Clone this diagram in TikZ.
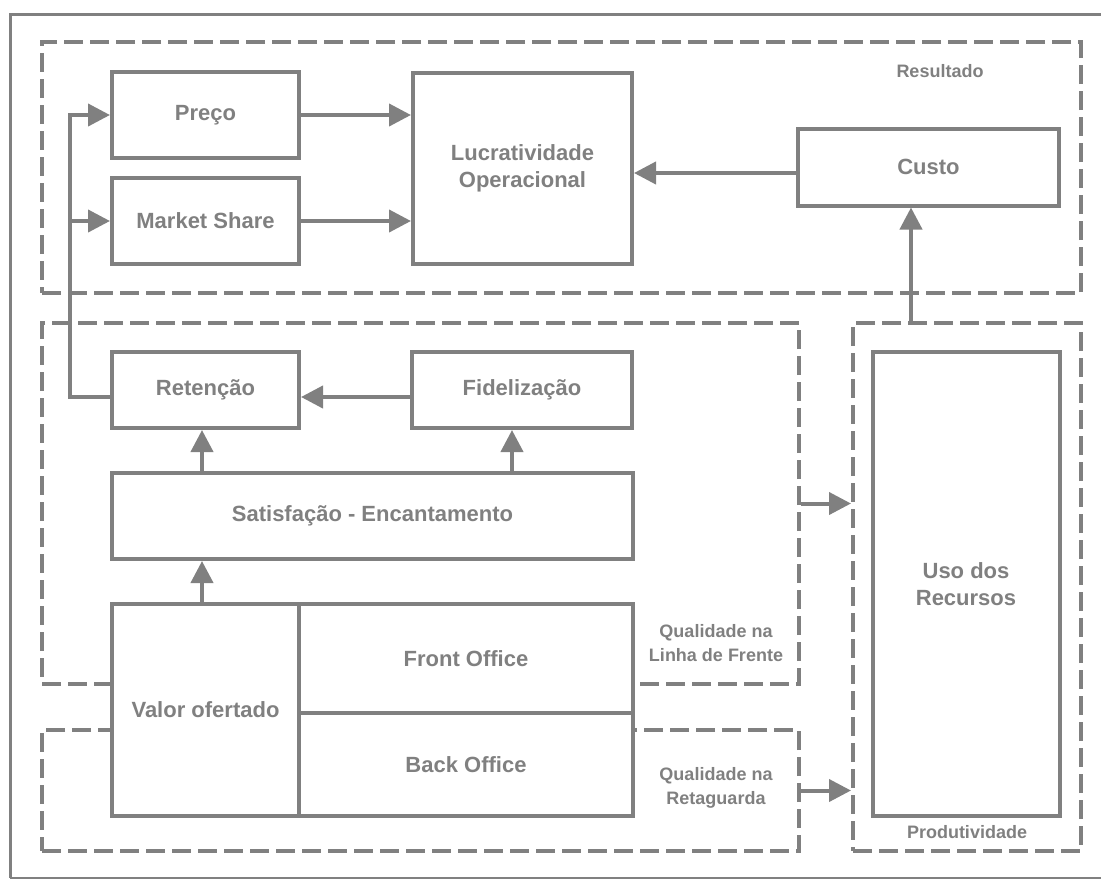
\documentclass[tikz,border=0pt]{standalone}
\usepackage{fontspec}
\setmainfont{Liberation Sans}
\usepackage{xcolor}
\definecolor{cinza}{RGB}{128,128,128}
\usepackage{tikz}
\usetikzlibrary{arrows.meta}
\usetikzlibrary{positioning}
\newcommand{\textobox}{\bfseries\fontsize{22}{27}\selectfont}
\newcommand{\textorotulo}{\bfseries\fontsize{18}{24}\selectfont}
\newcommand{\larguracol}{187pt}
\tikzset{
    caixa/.style={draw=cinza, line width=4pt, fill=white, rectangle, inner sep=0pt,
        text=cinza, align=center, font=\textobox},
    coluna/.style={caixa, minimum width=\larguracol},
    regiao/.style={draw=cinza, line width=4pt, rectangle, inner sep=0pt,
        dash pattern=on 19pt off 7pt},
    rotulo/.style={text=cinza, align=center, font=\textorotulo, inner sep=0pt},
    seta/.style={draw=cinza, line width=4pt, -{Triangle[length=22pt, width=22pt]}},
    linha/.style={draw=cinza, line width=4pt}
}
\begin{document}
\begin{tikzpicture}[x=1pt, y=-1pt]
    \useasboundingbox (0,0) rectangle (1101,879);
    \draw[cinza, line width=3pt] (1110,14) -- (10,14) -- (10,878);
    \draw[cinza, line width=1.5pt] (10,878) -- (1110,878);

    % regioes tracejadas
    \node[regiao, minimum width=1039pt, minimum height=251pt] (resultado) at (561.5,167.5) {};
    \node[regiao, minimum width=757pt, minimum height=361pt] (frente) at (420.5,503.5) {};
    \node[regiao, minimum width=757pt, minimum height=121pt] (retaguarda) at (420.5,790.5) {};
    \node[regiao, minimum width=228pt, minimum height=528pt] (produtividade) at (967,587) {};

    \node[rotulo] (r-resultado) at (940,71) {Resultado};
    \node[rotulo] (r-frente) at (716,643) {Qualidade na\\Linha de Frente};
    \node[rotulo] (r-retaguarda) at (716,788) {Qualidade na\\Retaguarda};
    \node[rotulo] (r-produtividade) at (967,832) {Produtividade};

    % caixas
    \node[coluna, minimum height=86pt] (preco) at (205.5,115) {Preço};
    \node[coluna, minimum height=86pt] (share) at (205.5,221) {Market Share};
    \node[caixa, minimum width=219pt, minimum height=191pt] (lucro) at (522.5,168.5) {Lucratividade\\Operacional};
    \node[caixa, minimum width=261pt, minimum height=77pt] (custo) at (928.5,167) {Custo};
    \node[coluna, minimum height=76pt] (retencao) at (205.5,390) {Retenção};
    \node[caixa, minimum width=220pt, minimum height=76pt] (fidel) at (522,390) {Fidelização};
    \node[caixa, minimum width=521pt, minimum height=86pt] (satisf) at (372.5,516) {Satisfação - Encantamento};
    \node[coluna, minimum height=212pt] (valor) at (205.5,710) {Valor ofertado};
    \node[caixa, minimum width=334pt, minimum height=109pt] (front) at (466,658.5) {Front Office};
    \node[caixa, minimum width=334pt, minimum height=103pt] (back) at (466,764.5) {Back Office};
    \node[coluna, minimum height=464pt] (uso) at (966,584) {Uso dos\\Recursos};

    % ligacoes
    \coordinate (volta) at (70,0);
    \coordinate (sobe) at (911,0);

    \draw[seta] (preco.east) -- (preco.east -| lucro.west);
    \draw[seta] (share.east) -- (share.east -| lucro.west);
    \draw[seta] ([yshift=-6pt]custo.west) -- ([yshift=-6pt]custo.west -| lucro.east);
    \draw[seta] (sobe |- produtividade.north) -- (sobe |- custo.south);
    \draw[seta] ([yshift=-7pt]fidel.west) -- ([yshift=-7pt]retencao.east);
    \draw[seta] ([yshift=-7pt]retencao.west) -| (volta |- preco.west) -- (preco.west);
    \draw[seta] (volta |- share.west) -- (share.west);
    \draw[seta] (satisf.north -| 202,0) -- (202,0 |- retencao.south);
    \draw[seta] (satisf.north -| 512,0) -- (512,0 |- fidel.south);
    \draw[seta] (valor.north -| 202,0) -- (202,0 |- satisf.south);
    \draw[seta] (frente.east) -- (frente.east -| produtividade.west);
    \draw[seta] (retaguarda.east) -- (retaguarda.east -| produtividade.west);
\end{tikzpicture}
\end{document}
